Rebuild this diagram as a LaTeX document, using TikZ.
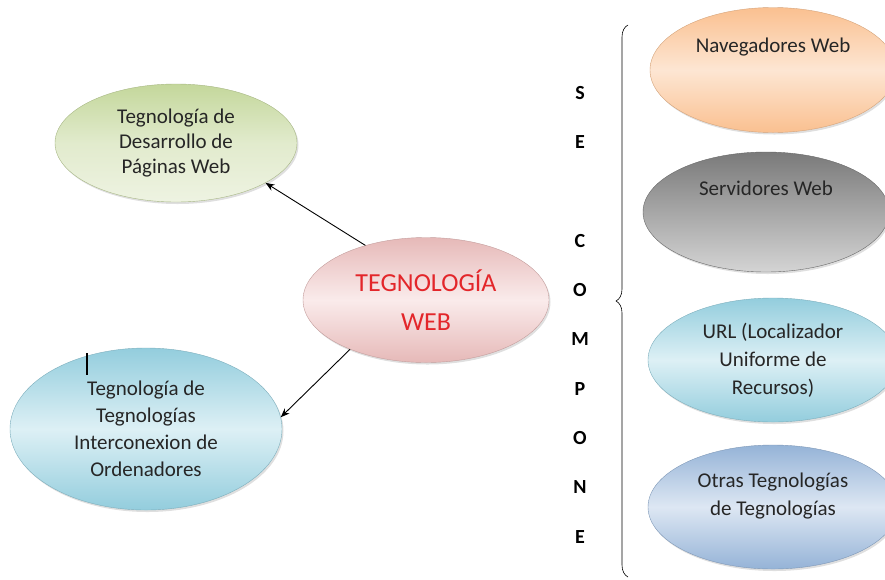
\documentclass[tikz,border=0pt]{standalone}
\usepackage{fontspec}
\setmainfont{Carlito}
\usetikzlibrary{decorations.pathreplacing,shapes,arrows.meta,shadows}

\definecolor{verde}{HTML}{C4D79B}
\definecolor{verdeclaro}{HTML}{EEF3E2}
\definecolor{rosa}{HTML}{E6B9B8}
\definecolor{rosaclaro}{HTML}{FAEBEB}
\definecolor{celeste}{HTML}{93CDDD}
\definecolor{celesteclaro}{HTML}{DDF0F5}
\definecolor{naranja}{HTML}{FAC090}
\definecolor{naranjaclaro}{HTML}{FDE6D3}
\definecolor{gris}{HTML}{7A7A7A}
\definecolor{grisclaro}{HTML}{D4D4D4}
\definecolor{lila}{HTML}{95B3D7}
\definecolor{lilaclaro}{HTML}{DDE7F3}
\definecolor{rojo}{HTML}{E3262A}

\tikzset{
	bubble/.style={ellipse,inner sep=0pt,align=center,font=\fontsize{21}{27}\selectfont,text=black!85,
		drop shadow={opacity=0.25,shadow xshift=1.5pt,shadow yshift=-2pt}},
	txt/.style={align=center,font=\fontsize{21}{27}\selectfont,text=black!85},
	letra/.style={font=\fontsize{20}{20}\bfseries\selectfont}
}

\begin{document}
\begin{tikzpicture}[x=1pt,y=-1pt]
	\useasboundingbox (0,0) rectangle (885,579);
	\clip (0,0) rectangle (885,579);

	% izquierda
	\node[bubble,draw=verde!85!black,top color=verde,bottom color=verdeclaro,middle color=verdeclaro!70!verde,minimum width=242pt,minimum height=118pt,font=\fontsize{21}{25}\selectfont] (V) at (176,143) {Tegnología de\\Desarrollo de\\Páginas Web};

	\node[bubble,draw=rosa!85!black,top color=rosa,bottom color=rosa,middle color=rosaclaro,minimum width=246pt,minimum height=125pt,font=\fontsize{26}{39}\selectfont,text=rojo] (R) at (426,300) {TEGNOLOGÍA\\WEB};

	\node[bubble,draw=celeste!85!black,top color=celeste,bottom color=celeste,middle color=celesteclaro,minimum width=272pt,minimum height=162pt] (B) at (146,429) {Tegnología de\\Tegnologías\\Interconexion de\\Ordenadores};

	\draw[line width=2pt] (87,353) -- (87,375);

	\path [->,>={Stealth[length=9pt,width=7pt]},line width=0.9pt]
		(R.138) edge node {} (V.-24)
		(R.213) edge node {} (B.5);

	% se compone
	\foreach \l/\k in {S/0,E/1,C/3,O/4,M/5,P/6,O/7,N/8,E/9}
		\node[letra] (L\k) at (580,93+49.3*\k) {\l};

	\coordinate (llaveA) at (628,577);
	\coordinate (llaveB) at (628,25);
	\draw[decorate,decoration={brace,amplitude=12pt},line width=0.6pt] (llaveA) -- (llaveB);

	% derecha
	\node[bubble,draw=naranja!85!black,top color=naranja,bottom color=naranja,middle color=naranjaclaro,minimum width=246pt,minimum height=125pt] (N1) at (773,70) {};
	\node[txt] (N1t) at ([yshift=23pt]N1.center) {Navegadores Web};

	\node[bubble,draw=gris!85!black,top color=gris,bottom color=grisclaro,minimum width=246pt,minimum height=120pt] (N2) at (766,212) {};
	\node[txt] (N2t) at ([yshift=24pt]N2.center) {Servidores Web};

	\node[bubble,draw=celeste!85!black,top color=celeste,bottom color=celeste,middle color=celesteclaro,minimum width=250pt,minimum height=124pt,font=\fontsize{21}{28}\selectfont] (N3) at (773,360) {URL (Localizador\\Uniforme de\\Recursos)};

	\node[bubble,draw=lila!85!black,top color=lila,bottom color=lila,middle color=lilaclaro,minimum width=250pt,minimum height=124pt] (N4) at (773,507) {};
	\node[txt,font=\fontsize{21}{28}\selectfont] (N4t) at ([yshift=11pt]N4.center) {Otras Tegnologías\\de Tegnologías};
\end{tikzpicture}
\end{document}
